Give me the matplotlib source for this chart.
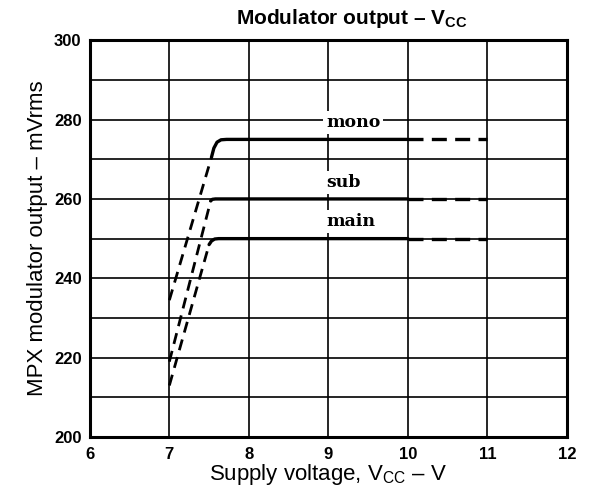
import matplotlib
matplotlib.use("Agg")
import matplotlib.pyplot as plt
from matplotlib.ticker import MultipleLocator

plt.rcParams['font.family'] = ['Liberation Sans', 'DejaVu Sans']
plt.rcParams['mathtext.fontset'] = 'custom'
plt.rcParams['mathtext.rm'] = 'Liberation Sans'
plt.rcParams['mathtext.bf'] = 'Liberation Sans:bold'

# Supply voltage (V) and output (mVrms) for each channel
# rising region (dashed) below the knee
mono_rise_v = [7.0, 7.53]
mono_rise_mv = [234.5, 270.5]
sub_rise_v = [7.0, 7.52]
sub_rise_mv = [219.0, 259.5]
main_rise_v = [7.0, 7.50]
main_rise_mv = [213.0, 248.5]

# guaranteed region (solid), knee through 10 V
mono_flat_v = [7.53, 7.56, 7.60, 7.65, 7.72, 10.0]
mono_flat_mv = [270.5, 272.8, 274.3, 274.9, 275.0, 275.0]
sub_flat_v = [7.52, 7.54, 7.58, 10.0]
sub_flat_mv = [259.5, 259.9, 260.0, 260.0]
main_flat_v = [7.50, 7.53, 7.57, 7.62, 10.0]
main_flat_mv = [248.5, 249.4, 249.9, 250.0, 250.0]

# extension (dashed) 10 V to 11 V
mono_ext_v = [10.0, 11.0]
mono_ext_mv = [275.0, 275.0]
sub_ext_v = [10.0, 11.0]
sub_ext_mv = [260.0, 260.0]
main_ext_v = [10.0, 11.0]
main_ext_mv = [250.0, 250.0]

labels = ["mono", "sub", "main"]
label_v = [8.97, 8.97, 8.97]
label_mv = [279.3, 264.2, 254.3]

x_ticks = [6, 7, 8, 9, 10, 11, 12]
y_ticks = [200, 220, 240, 260, 280, 300]

fig = plt.figure(figsize=(6.03, 4.90), dpi=100)
ax = fig.add_axes([0.149, 0.108, 0.791, 0.810])
ax.set_xlim(6, 12)
ax.set_ylim(200, 300)
ax.set_xticks(x_ticks)
ax.set_yticks(y_ticks)
ax.yaxis.set_minor_locator(MultipleLocator(10))
ax.grid(True, which='both', color='black', linewidth=1.2, zorder=1)
ax.set_axisbelow(True)
ax.tick_params(which='both', length=0)
ax.tick_params(axis='x', pad=7)
ax.tick_params(axis='y', pad=6)
for lbl in ax.get_xticklabels() + ax.get_yticklabels():
    lbl.set_fontweight('heavy')
    lbl.set_fontsize(12)
for sp in ax.spines.values():
    sp.set_linewidth(2.2)
    sp.set_zorder(5)

for rv, rm, fv, fm, ev, em in [
    (mono_rise_v, mono_rise_mv, mono_flat_v, mono_flat_mv, mono_ext_v, mono_ext_mv),
    (sub_rise_v, sub_rise_mv, sub_flat_v, sub_flat_mv, sub_ext_v, sub_ext_mv),
    (main_rise_v, main_rise_mv, main_flat_v, main_flat_mv, main_ext_v, main_ext_mv),
]:
    ax.plot(rv, rm, color='black', linewidth=2.0, linestyle=(0, (4, 2.6)), zorder=3)
    ax.plot(fv, fm, color='black', linewidth=2.4, solid_capstyle='round', zorder=3)
    ax.plot(ev, em, color='black', linewidth=2.4, linestyle=(0, (4.5, 2.5)), zorder=3)

for t, xv, yv in zip(labels, label_v, label_mv):
    ax.text(xv, yv, t, ha='left', va='center', fontsize=12.5, fontweight='bold',
            family=['DejaVu Serif'], zorder=4,
            bbox=dict(facecolor='white', edgecolor='none', pad=2.0))

fig.text(0.583, 0.962, r'Modulator output – V$_\mathbf{CC}$', ha='center', va='center',
         fontsize=15, fontweight='bold')
ax.set_xlabel(r'Supply voltage, V$_\mathrm{CC}$ – V', fontsize=16, labelpad=0)
ax.set_ylabel('MPX modulator output – mVrms', fontsize=16, labelpad=4)

fig.savefig('out.png', dpi=100)
